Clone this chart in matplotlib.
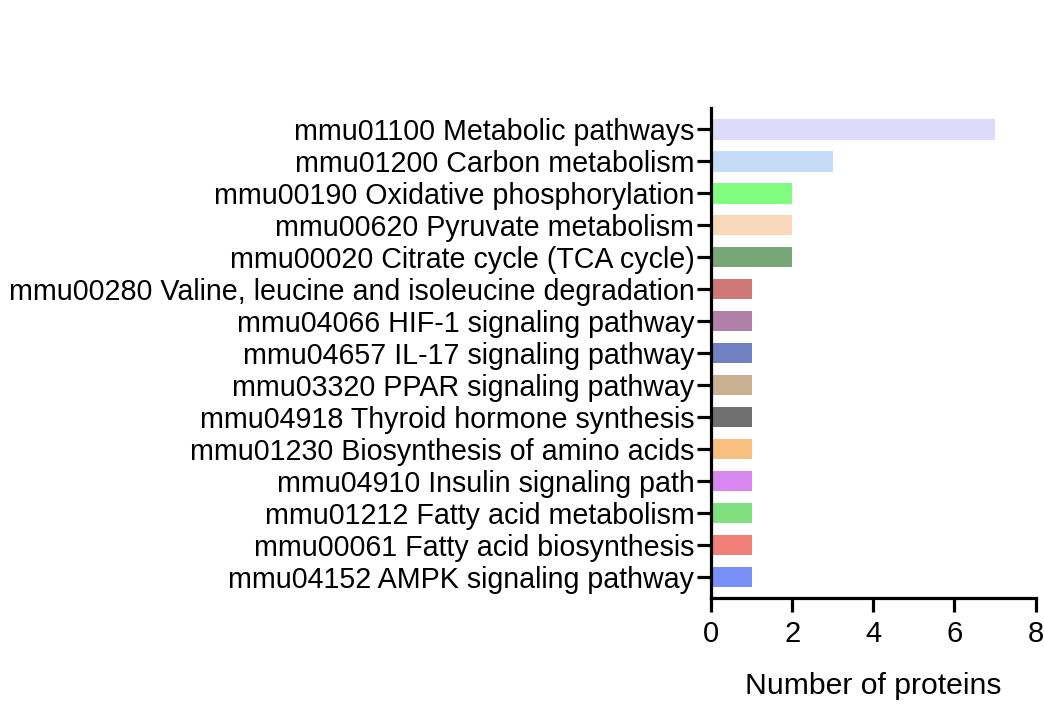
import matplotlib
matplotlib.use("Agg")
import matplotlib.pyplot as plt

categories = [
    "mmu01100 Metabolic pathways",
    "mmu01200 Carbon metabolism",
    "mmu00190 Oxidative phosphorylation",
    "mmu00620 Pyruvate metabolism",
    "mmu00020 Citrate cycle (TCA cycle)",
    "mmu00280 Valine, leucine and isoleucine degradation",
    "mmu04066 HIF-1 signaling pathway",
    "mmu04657 IL-17 signaling pathway",
    "mmu03320 PPAR signaling pathway",
    "mmu04918 Thyroid hormone synthesis",
    "mmu01230 Biosynthesis of amino acids",
    "mmu04910 Insulin signaling path",
    "mmu01212 Fatty acid metabolism",
    "mmu00061 Fatty acid biosynthesis",
    "mmu04152 AMPK signaling pathway",
]
values = [7, 3, 2, 2, 2, 1, 1, 1, 1, 1, 1, 1, 1, 1, 1]
colors = ["#dcdcfa", "#c4dcf8", "#80fc80", "#f8d8b8", "#78a878",
          "#d07878", "#b080a8", "#7080c0", "#c8b090", "#707070",
          "#f8c080", "#d888f0", "#80e080", "#f08078", "#7890f8"]
xticks = [0, 2, 4, 6, 8]

plt.rcParams['font.family'] = ['Liberation Sans', 'DejaVu Sans']
fig = plt.figure(figsize=(10.44, 7.17), dpi=100)
ax = fig.add_axes([0.681, 0.166, 0.311, 0.683])
y = list(range(len(categories)))
ax.barh(y, values, height=0.64, color=colors)
ax.set_ylim(len(categories) - 1 + 0.66, -0.66)
ax.set_xlim(0, 8)
ax.set_yticks(y)
ax.set_yticklabels(categories, fontsize=20.6)
ax.set_xticks(xticks)
ax.set_xticklabels([str(t) for t in xticks], fontsize=21)
ax.set_xlabel("Number of proteins", fontsize=21.7, labelpad=17)
for s in ["top", "right"]:
    ax.spines[s].set_visible(False)
for s in ["left", "bottom"]:
    ax.spines[s].set_linewidth(2.3)
ax.tick_params(axis='both', width=2.3, length=10, colors='black')
ax.tick_params(axis='y', pad=2)
ax.tick_params(axis='x', pad=6)
fig.savefig("out.png", dpi=100)
